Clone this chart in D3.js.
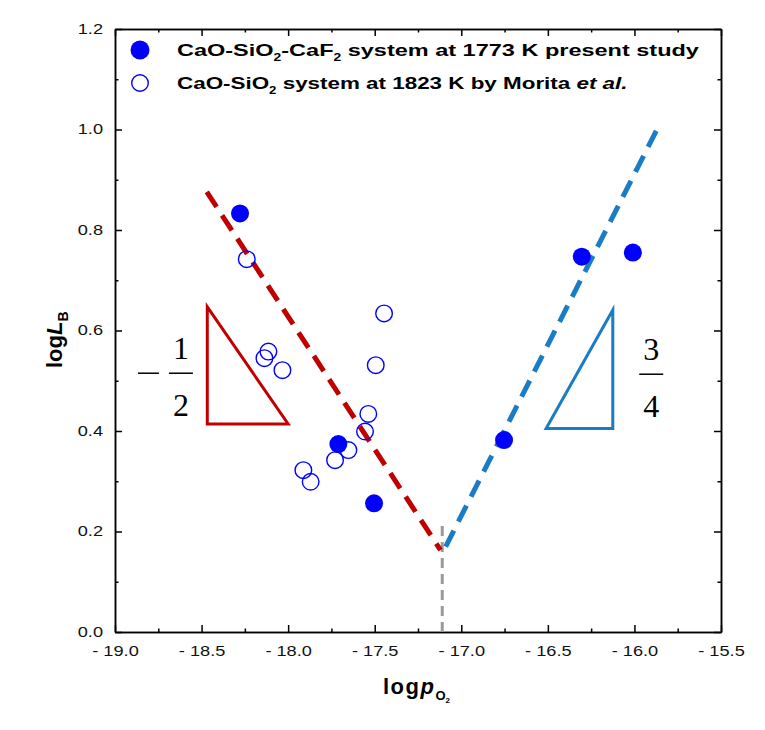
<!DOCTYPE html>
<html><head><meta charset="utf-8">
<script src="https://cdn.jsdelivr.net/npm/d3@7/dist/d3.min.js"></script>
<style>body{margin:0;background:#fff}</style>
</head><body>
<svg id="chart" width="765" height="730"></svg>
<script>
// ---- data ----
const presentX = [-18.278, -17.710, -17.504, -16.753, -16.304, -16.009];
const presentY = [0.833, 0.374, 0.256, 0.382, 0.747, 0.755];
const moritaX = [-18.239, -17.446, -18.114, -18.137, -18.033, -17.494, -17.537, -17.556, -17.652, -17.729, -17.912, -17.870];
const moritaY = [0.742, 0.634, 0.558, 0.545, 0.521, 0.531, 0.434, 0.399, 0.362, 0.342, 0.322, 0.299];
const redLineX = [-18.47, -17.12];
const redLineY = [0.876, 0.163];
const blueLineX = [-17.09, -15.87];
const blueLineY = [0.170, 1.000];
const guideX = [-17.11, -17.11];
const guideY = [0.0, 0.22];
const redTriX = [-18.467, -18.467, -18.000];
const redTriY = [0.647, 0.414, 0.414];
const blueTriX = [-16.51, -16.125, -16.125];
const blueTriY = [0.405, 0.405, 0.641];
const xTicks = [-19.0, -18.5, -18.0, -17.5, -17.0, -16.5, -16.0, -15.5];
const xTickLabels = ["-19.0", "-18.5", "-18.0", "-17.5", "-17.0", "-16.5", "-16.0", "-15.5"];
const xMinor = [-18.75, -18.25, -17.75, -17.25, -16.75, -16.25, -15.75];
const yTicks = [0.0, 0.2, 0.4, 0.6, 0.8, 1.0, 1.2];
const yTickLabels = ["0.0", "0.2", "0.4", "0.6", "0.8", "1.0", "1.2"];
const yMinor = [0.1, 0.3, 0.5, 0.7, 0.9, 1.1];

// ---- layout ----
const svg = d3.select("#chart");
const x = d3.scaleLinear().domain([-19, -15.5]).range([115, 721]);
const y = d3.scaleLinear().domain([0, 1.2]).range([632, 29]);
const SX = 1.3; // horizontal text stretch
const BLUE = "#0000ff";
const SANS = "Liberation Sans, Arial, sans-serif";

function addAxis(gen, tx, ty) {
  const g = svg.append("g").attr("transform", `translate(${tx},${ty})`).call(gen);
  g.select(".domain").attr("stroke", "#000").attr("stroke-width", 1.5);
  g.selectAll(".tick line").attr("stroke", "#000").attr("stroke-width", 1.5);
  return g;
}
// bottom
const gb = addAxis(d3.axisBottom(x).tickValues(xTicks).tickFormat((d, i) => xTickLabels[i].replace("-", "- "))
  .tickSizeInner(-7).tickSizeOuter(0).tickPadding(14), 0, 632);
gb.selectAll(".tick text").attr("font-family", SANS).attr("font-size", 14)
  .attr("fill", "#111").attr("transform", `scale(${SX},1)`);
addAxis(d3.axisBottom(x).tickValues(xMinor).tickFormat("").tickSizeInner(-3.5).tickSizeOuter(0), 0, 632);
// top
addAxis(d3.axisTop(x).tickValues(xTicks).tickFormat("").tickSizeInner(-7).tickSizeOuter(0), 0, 29);
addAxis(d3.axisTop(x).tickValues(xMinor).tickFormat("").tickSizeInner(-3.5).tickSizeOuter(0), 0, 29);
// left
const gl = addAxis(d3.axisLeft(y).tickValues(yTicks).tickFormat((d, i) => yTickLabels[i])
  .tickSizeInner(-7).tickSizeOuter(0).tickPadding(13), 115, 0);
gl.selectAll(".tick text").attr("font-family", SANS).attr("font-size", 14)
  .attr("fill", "#111").attr("x", -12 / SX).attr("transform", `scale(${SX},1)`);
addAxis(d3.axisLeft(y).tickValues(yMinor).tickFormat("").tickSizeInner(-3.5).tickSizeOuter(0), 115, 0);
// right
addAxis(d3.axisRight(y).tickValues(yTicks).tickFormat("").tickSizeInner(-7).tickSizeOuter(0), 721, 0);
addAxis(d3.axisRight(y).tickValues(yMinor).tickFormat("").tickSizeInner(-3.5).tickSizeOuter(0), 721, 0);

// ---- lines ----
const line = d3.line().x(d => x(d[0])).y(d => y(d[1]));
svg.append("path").datum(guideX.map((v, i) => [v, guideY[i]])).attr("d", line)
  .attr("stroke", "#9a9a9a").attr("stroke-width", 3).attr("stroke-dasharray", "10,6").attr("fill", "none");
svg.append("path").datum(redLineX.map((v, i) => [v, redLineY[i]])).attr("d", line)
  .attr("stroke", "#c00000").attr("stroke-width", 5).attr("stroke-dasharray", "18,10").attr("fill", "none");
svg.append("path").datum(blueLineX.map((v, i) => [v, blueLineY[i]])).attr("d", line)
  .attr("stroke", "#1a7cc4").attr("stroke-width", 5).attr("stroke-dasharray", "18,10").attr("fill", "none");

// ---- triangles ----
svg.append("path").datum(redTriX.map((v, i) => [v, redTriY[i]])).attr("d", d => line(d) + "Z")
  .attr("stroke", "#c00000").attr("stroke-width", 3).attr("fill", "none");
svg.append("path").datum(blueTriX.map((v, i) => [v, blueTriY[i]])).attr("d", d => line(d) + "Z")
  .attr("stroke", "#1a7cc4").attr("stroke-width", 3).attr("fill", "none");

// ---- fractions ----
function frac(cx, barY, num, den, minus) {
  const g = svg.append("g").attr("font-family", "Liberation Serif, Times New Roman, serif").attr("font-size", 32).attr("fill", "#000");
  g.append("text").attr("x", cx).attr("y", barY - 14).attr("text-anchor", "middle").text(num);
  g.append("text").attr("x", cx).attr("y", barY + 43).attr("text-anchor", "middle").text(den);
  g.append("line").attr("x1", cx - 12).attr("x2", cx + 12).attr("y1", barY).attr("y2", barY).attr("stroke", "#000").attr("stroke-width", 1.5);
  if (minus) g.append("line").attr("x1", cx - 43).attr("x2", cx - 22).attr("y1", barY).attr("y2", barY).attr("stroke", "#000").attr("stroke-width", 1.5);
}
frac(x(-18.619), y(0.515), "1", "2", true);
frac(x(-15.903), y(0.513), "3", "4", false);

// ---- points ----
svg.append("g").selectAll("circle").data(moritaX.map((v, i) => [v, moritaY[i]])).join("circle")
  .attr("cx", d => x(d[0])).attr("cy", d => y(d[1])).attr("r", 8.3)
  .attr("fill", "none").attr("stroke", BLUE).attr("stroke-width", 1.4);
svg.append("g").selectAll("circle").data(presentX.map((v, i) => [v, presentY[i]])).join("circle")
  .attr("cx", d => x(d[0])).attr("cy", d => y(d[1])).attr("r", 9).attr("fill", BLUE);

// ---- legend ----
function legendText(ty, parts, targetW) {
  const g = svg.append("g").attr("transform", `translate(177,${ty})`);
  const t = g.append("text").attr("font-family", SANS).attr("font-weight", "bold")
    .attr("font-size", 17).attr("fill", "#000").attr("y", 6);
  parts.forEach(p => {
    const s = t.append("tspan").text(p.t);
    if (p.sub) s.attr("font-size", 10).attr("dy", 5);
    if (p.up) s.attr("dy", -5);
    if (p.it) s.attr("font-style", "italic");
  });
  const w = t.node().getBBox().width;
  t.attr("transform", `scale(${targetW / w},1)`);
}
svg.append("circle").attr("cx", 140).attr("cy", 50).attr("r", 9.5).attr("fill", BLUE);
svg.append("circle").attr("cx", 140).attr("cy", 83).attr("r", 8.3).attr("fill", "none").attr("stroke", BLUE).attr("stroke-width", 1.4);
legendText(50, [{t: "CaO-SiO"}, {t: "2", sub: true}, {t: "-CaF", up: true}, {t: "2", sub: true}, {t: " system at 1773 K present study", up: true}], 523);
legendText(83, [{t: "CaO-SiO"}, {t: "2", sub: true}, {t: " system at 1823 K by Morita ", up: true}, {t: "et al.", it: true}], 451);

// ---- axis titles ----
const xt = svg.append("g").attr("transform", "translate(383,694)");
const xtt = xt.append("text").attr("font-family", SANS).attr("font-weight", "bold")
  .attr("font-size", 22).attr("fill", "#000").attr("letter-spacing", 1.5);
xtt.append("tspan").text("log");
xtt.append("tspan").attr("font-style", "italic").text("p");
xtt.append("tspan").attr("font-size", 13).attr("dy", 6).attr("letter-spacing", 0).text("O");
xtt.append("tspan").attr("font-size", 8).attr("dy", 3).attr("letter-spacing", 0).text("2");

const yt = svg.append("g").attr("transform", "translate(62,368) rotate(-90)");
const ytt = yt.append("text").attr("font-family", SANS).attr("font-weight", "bold")
  .attr("font-size", 22).attr("fill", "#000");
ytt.append("tspan").text("log");
ytt.append("tspan").attr("font-style", "italic").text("L");
ytt.append("tspan").attr("font-size", 14).attr("dy", 6).text("B");
</script>
</body></html>
